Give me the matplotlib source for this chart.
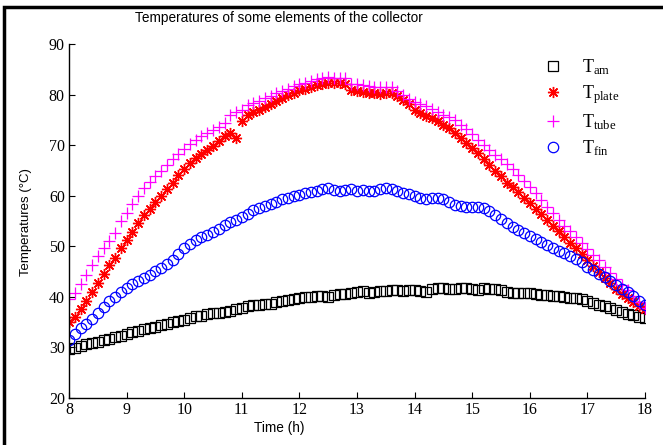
import numpy as np
import matplotlib
matplotlib.use("Agg")
import matplotlib.pyplot as plt
from matplotlib.patches import Rectangle

plt.rcParams['mathtext.fontset'] = 'custom'
plt.rcParams['mathtext.rm'] = 'Liberation Serif'
plt.rcParams['mathtext.it'] = 'Liberation Serif:italic'

time_h = [8.0 + 0.1 * i for i in range(101)]

t_am = [29.6, 29.9, 30.3, 30.6, 30.9, 31.0, 31.4, 31.6, 32.1, 32.3,
        32.7, 33.0, 33.2, 33.6, 33.8, 34.1, 34.4, 34.6, 35.0, 35.3,
        35.5, 35.9, 36.2, 36.3, 36.6, 36.8, 36.9, 37.1, 37.3, 37.6,
        37.7, 38.1, 38.3, 38.3, 38.5, 38.6, 38.9, 39.2, 39.3, 39.6,
        39.8, 39.9, 40.0, 40.1, 40.2, 40.0, 40.3, 40.5, 40.6, 40.7,
        40.9, 41.1, 40.8, 41.0, 41.2, 41.1, 41.3, 41.4, 41.2, 41.3,
        41.3, 41.2, 40.9, 41.5, 41.8, 41.8, 41.6, 41.5, 41.7, 41.8,
        41.6, 41.4, 41.7, 41.5, 41.6, 41.3, 41.0, 40.8, 40.7, 40.8,
        40.7, 40.5, 40.4, 40.3, 40.1, 40.2, 39.9, 39.8, 39.7, 39.5,
        39.2, 38.8, 38.4, 38.2, 37.8, 37.4, 37.0, 36.7, 36.4, 36.0,
        35.9]

t_plate = [35.0, 36.0, 37.6, 39.2, 41.0, 42.8, 44.6, 46.3, 47.6, 49.6,
           51.2, 52.8, 54.6, 56.1, 57.4, 58.7, 60.0, 61.3, 62.6, 64.0,
           65.2, 66.4, 67.4, 68.3, 69.1, 69.9, 70.8, 71.8, 72.4, 71.4,
           74.8, 75.9, 76.5, 77.0, 77.6, 78.1, 78.8, 79.4, 79.9, 80.4,
           80.9, 81.1, 81.5, 81.8, 82.0, 82.2, 82.3, 82.3, 82.1, 80.9,
           80.7, 80.5, 80.3, 80.4, 80.2, 80.3, 80.4, 79.8, 79.0, 78.2,
           77.0, 76.3, 75.8, 75.4, 74.7, 74.0, 73.3, 72.4, 71.4, 70.4,
           69.5, 68.5, 67.3, 66.0, 64.8, 63.8, 62.6, 61.7, 60.7, 59.6,
           58.5, 57.4, 56.3, 55.2, 54.1, 53.0, 51.9, 50.7, 49.6, 48.5,
           47.3, 46.2, 45.0, 43.8, 42.7, 41.6, 40.6, 39.8, 38.9, 38.2,
           37.6]

t_tube = [39.5, 40.8, 42.5, 44.4, 46.3, 48.0, 49.6, 51.0, 52.6, 55.0,
          56.6, 58.4, 60.0, 61.6, 62.8, 63.8, 64.9, 66.0, 67.2, 68.2,
          69.2, 70.2, 71.0, 71.8, 72.4, 73.0, 73.6, 74.3, 75.9, 76.5,
          77.0, 77.9, 78.4, 78.8, 79.4, 79.8, 80.3, 80.8, 81.2, 81.6,
          82.0, 82.3, 82.6, 83.0, 83.2, 83.4, 83.3, 83.2, 83.3, 82.0,
          82.0, 81.8, 81.7, 81.5, 81.5, 81.4, 81.4, 80.8, 79.9, 79.2,
          78.6, 78.2, 77.8, 77.2, 76.6, 76.0, 75.5, 74.9, 74.0, 73.1,
          72.2, 71.1, 70.1, 69.0, 68.1, 67.2, 66.3, 65.2, 64.1, 62.9,
          61.8, 60.5, 59.2, 57.8, 56.5, 55.2, 54.1, 53.0, 51.9, 50.7,
          49.5, 48.3, 47.3, 46.0, 44.8, 43.5, 42.4, 41.3, 40.2, 39.0,
          37.8]

t_fin = [31.5, 32.6, 33.8, 34.6, 35.7, 36.8, 38.0, 39.2, 40.0, 41.0,
         41.8, 42.5, 43.2, 43.8, 44.4, 45.1, 45.8, 46.5, 47.3, 48.5,
         49.6, 50.5, 51.3, 51.9, 52.3, 52.8, 53.4, 54.3, 54.8, 55.1,
         55.7, 56.4, 57.1, 57.5, 57.9, 58.3, 58.8, 59.3, 59.6, 60.0,
         60.2, 60.5, 60.8, 61.0, 61.3, 61.6, 61.2, 61.0, 61.2, 61.3,
         61.0, 61.2, 60.9, 61.0, 61.3, 61.5, 61.3, 61.0, 60.6, 60.3,
         59.9, 59.5, 59.4, 59.5, 59.6, 59.3, 58.7, 58.1, 57.9, 57.8,
         57.8, 57.8, 57.6, 57.0, 56.2, 55.4, 54.6, 53.9, 53.3, 52.7,
         52.0, 51.4, 50.8, 50.2, 49.6, 49.1, 48.6, 48.1, 47.5, 46.8,
         46.0, 45.3, 44.6, 43.9, 43.2, 42.4, 41.6, 40.9, 40.2, 39.2,
         38.4]

labels = [r'$\mathrm{T_{am}}$', r'$\mathrm{T_{plate}}$',
          r'$\mathrm{T_{tube}}$', r'$\mathrm{T_{fin}}$']
x_ticks = list(range(8, 19))
y_ticks = list(range(20, 91, 10))

fig = plt.figure(figsize=(6.63, 4.45), dpi=100)
ax = fig.add_axes([69/663, 1-398/445, (645-69)/663, (398-44)/445])

ax.plot(time_h, t_am, linestyle='none', marker='s', ms=7, mfc='none',
        mec='black', mew=0.9, label=labels[0])
ax.plot(time_h, t_plate, linestyle='none', marker=(8, 2, 0), ms=8,
        mec='red', color='red', mew=1.0, label=labels[1])
ax.plot(time_h, t_tube, linestyle='none', marker='+', ms=8.5, mec='magenta',
        color='magenta', mew=0.9, label=labels[2])
ax.plot(time_h, t_fin, linestyle='none', marker='o', ms=7.5, mfc='none',
        mec='blue', mew=0.9, label=labels[3])

ax.set_xlim(8, 18)
ax.set_ylim(20, 90)
ax.set_xticks(x_ticks)
ax.set_yticks(y_ticks)
for s in ['top', 'right']:
    ax.spines[s].set_visible(False)
for s in ['left', 'bottom']:
    ax.spines[s].set_linewidth(1.0)
ax.tick_params(direction='in', length=4, width=0.8, labelsize=11.5, pad=3)
for lab in ax.get_xticklabels() + ax.get_yticklabels():
    lab.set_fontfamily('Liberation Serif')

leg = ax.legend(loc='upper left', frameon=False, prop={'size': 13},
                handlelength=1.6, handletextpad=0.8, labelspacing=0.35,
                borderaxespad=0)
leg.set_bbox_to_anchor((531/663, 1 - 50/445), transform=fig.transFigure)

fig.text(279/663, 1 - 18/445, 'Temperatures of some elements of the collector',
         ha='center', va='center', fontsize=9.8, family='Liberation Sans')
fig.text(279/663, 1 - 428/445, 'Time (h)', ha='center', va='center',
         fontsize=9.8, family='Liberation Sans')
fig.text(26/663, 1 - 222/445, 'Temperatures (°C)', ha='center', va='center',
         rotation=90, fontsize=9.5, family='Liberation Sans')

fig.patches.append(Rectangle((4/663, -0.5), 2.0, 0.5 + 1 - 7/445,
                             transform=fig.transFigure, fill=False,
                             edgecolor='black', lw=2.5, clip_on=False))

fig.savefig('out.png', dpi=100)
